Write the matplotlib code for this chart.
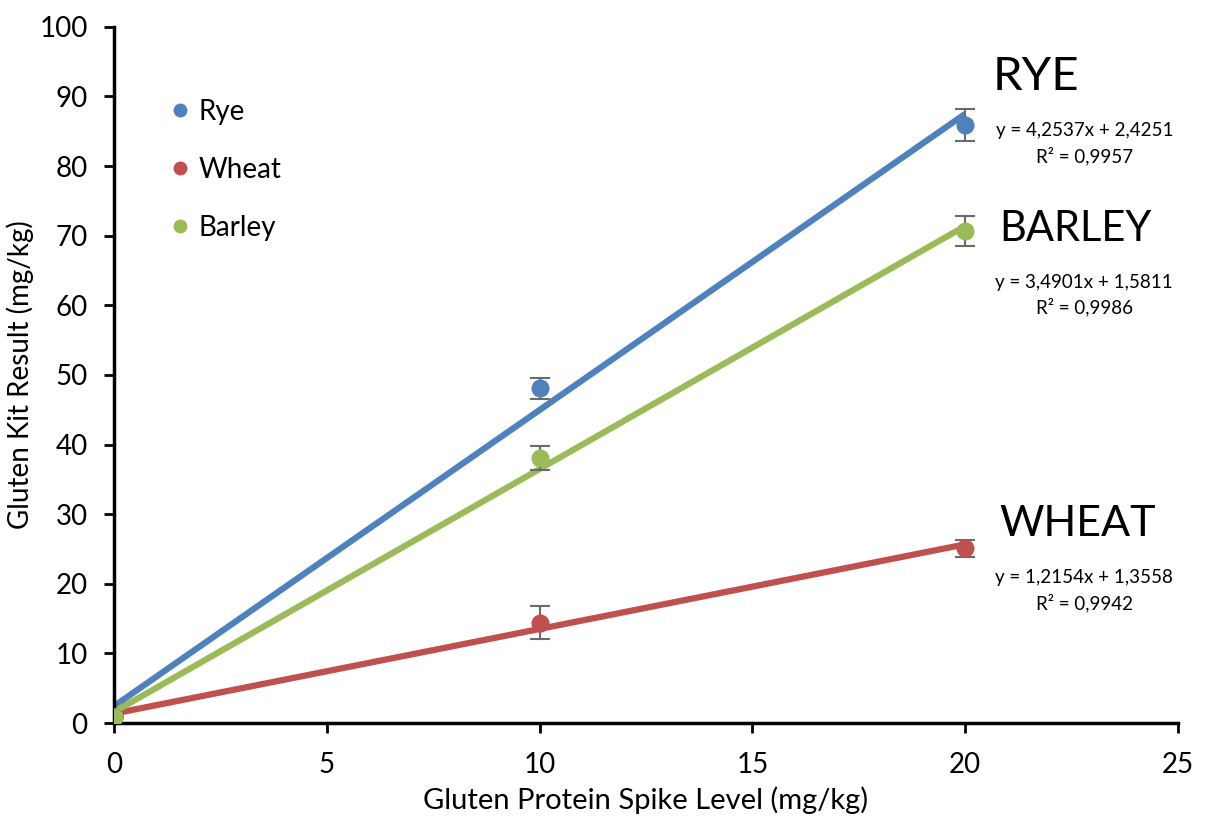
import numpy as np
import matplotlib.pyplot as plt
from matplotlib.lines import Line2D

plt.rcParams['font.family'] = ['Lato', 'DejaVu Sans']

spike = [0, 10, 20]
rye = [0.9, 48.1, 85.9]
rye_err = [0, 1.5, 2.3]
wheat = [0.9, 14.4, 25.1]
wheat_err = [0, 2.4, 1.2]
barley = [0.9, 38.1, 70.7]
barley_err = [0, 1.7, 2.2]

# trendline coefficients shown on the chart
slopes = [4.2537, 1.2154, 3.4901]
intercepts = [2.4251, 1.3558, 1.5811]
r2 = ['0,9957', '0,9942', '0,9986']
names = ['Rye', 'Wheat', 'Barley']
colors = ['#4f81bd', '#c0504d', '#9bbb59']

fig = plt.figure(figsize=(12.09, 8.19), dpi=100)
ax = fig.add_axes([0.0943, 0.1172, 0.88, 0.85])

series = [(rye, rye_err), (wheat, wheat_err), (barley, barley_err)]
xs = np.array([0, 20])
for (vals, err), m, b, c in zip(series, slopes, intercepts, colors):
    ax.plot(xs, m * xs + b, color=c, lw=4.5, solid_capstyle='butt', zorder=2)
for (vals, err), c in zip(series, colors):
    ax.errorbar(spike, vals, yerr=err, fmt='o', color=c, ms=12, ecolor='#6a6a6a',
                elinewidth=1.5, capsize=7, capthick=1.5, zorder=3)

big = ['RYE', 'WHEAT', 'BARLEY']
big_pos = [(20.65, 92.8), (20.8, 28.6), (20.8, 71.0)]
eq_pos = [(22.8, 83.2), (22.8, 19.0), (22.8, 61.5)]
big_size = [34, 31, 30]
for i in range(3):
    ax.text(*big_pos[i], big[i], fontsize=big_size[i], ha='left', va='center')
    ax.text(*eq_pos[i], 'y = %sx + %s\nR² = %s' % (str(slopes[i]).replace('.', ','),
            str(intercepts[i]).replace('.', ','), r2[i]),
            fontsize=13.5, ha='center', va='center', linespacing=1.45)

ax.set_xlim(0, 25)
ax.set_ylim(0, 100)
ax.set_xticks(range(0, 26, 5))
ax.set_yticks(range(0, 101, 10))
ax.tick_params(labelsize=20, width=2, length=7, direction='out')
ax.tick_params(axis='x', pad=14)
ax.tick_params(axis='y', pad=12)
ax.spines['right'].set_visible(False)
ax.spines['top'].set_visible(False)
ax.spines['left'].set_linewidth(2.5)
ax.spines['bottom'].set_linewidth(2.5)
ax.set_xlabel('Gluten Protein Spike Level (mg/kg)', fontsize=21, labelpad=6)
ax.set_ylabel('Gluten Kit Result (mg/kg)', fontsize=20, labelpad=4)

handles = [Line2D([], [], ls='', marker='o', ms=9, color=c) for c in colors]
ax.legend(handles, names, loc='upper left', bbox_to_anchor=(0.022, 0.932), frameon=False,
          fontsize=20, handletextpad=0.0, labelspacing=1.15, handlelength=1.3)

fig.savefig('out.png', dpi=100)
